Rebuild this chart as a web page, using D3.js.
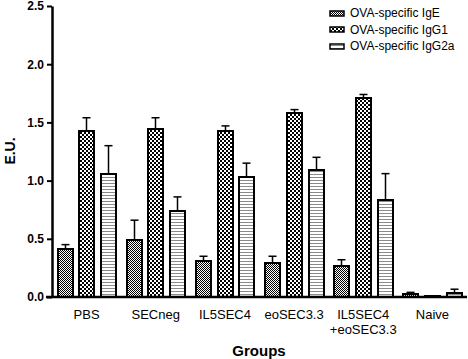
<!DOCTYPE html>
<html><head><meta charset="utf-8">
<script src="https://cdn.jsdelivr.net/npm/d3@7"></script>
<style>body{margin:0;background:#fff}svg{display:block}text{font-family:"Liberation Sans",Arial,sans-serif}</style>
</head><body><svg id="c" width="468" height="359"></svg>
<script>
const groups = ["PBS","SECneg","IL5SEC4","eoSEC3.3","IL5SEC4\n+eoSEC3.3","Naive"];
const seriesNames = ["OVA-specific IgE","OVA-specific IgG1","OVA-specific IgG2a"];
const igE      = [0.41,0.49,0.31,0.29,0.27,0.03];
const igEerr   = [0.04,0.17,0.04,0.06,0.05,0.01];
const igG1     = [1.43,1.44,1.43,1.58,1.71,0.005];
const igG1err  = [0.11,0.10,0.04,0.03,0.03,0.0];
const igG2a    = [1.06,0.74,1.03,1.09,0.83,0.037];
const igG2aerr = [0.24,0.12,0.12,0.11,0.23,0.03];
const yTicks = [0.0,0.5,1.0,1.5,2.0,2.5];

const svg = d3.select("#c");
const defs = svg.append("defs");
const p1 = defs.append("pattern").attr("id","pE").attr("patternUnits","userSpaceOnUse").attr("width",2).attr("height",2);
p1.append("rect").attr("width",2).attr("height",2).attr("fill","#fff");
p1.append("rect").attr("width",1).attr("height",1).attr("fill","#000");
p1.append("rect").attr("x",1).attr("y",1).attr("width",1).attr("height",1).attr("fill","#000");
const p2 = defs.append("pattern").attr("id","pG1").attr("patternUnits","userSpaceOnUse").attr("width",4).attr("height",4);
p2.append("rect").attr("width",4).attr("height",4).attr("fill","#fff");
p2.append("rect").attr("width",2).attr("height",2).attr("fill","#000");
p2.append("rect").attr("x",2).attr("y",2).attr("width",2).attr("height",2).attr("fill","#000");
const p3 = defs.append("pattern").attr("id","pG2").attr("patternUnits","userSpaceOnUse").attr("width",4).attr("height",3);
p3.append("rect").attr("width",4).attr("height",3).attr("fill","#fff");
p3.append("rect").attr("y",0).attr("width",4).attr("height",1).attr("fill","#8a8a8a");
const fills = ["url(#pE)","url(#pG1)","url(#pG2)"];

const x0 = d3.scaleBand().domain(groups).range([52,467]).paddingInner(0).paddingOuter(0);
const x1 = d3.scaleBand().domain([0,1,2]).range([-29,29]).paddingInner(0.33);
const y = d3.scaleLinear().domain([0,2.5]).range([297,6]);

const vals = [igE,igG1,igG2a], errs=[igEerr,igG1err,igG2aerr];
groups.forEach((g,i)=>{
  const gc = x0(g)+x0.bandwidth()/2;
  [0,1,2].forEach(s=>{
    const v = vals[s][i], e = errs[s][i];
    const bx = Math.round(gc + x1(s)), bw = Math.round(x1.bandwidth());
    const cx = bx+bw/2;
    const top = Math.round(y(v));
    if (e>0){
      svg.append("line").attr("x1",cx).attr("x2",cx).attr("y1",top).attr("y2",y(v+e)).attr("stroke","#000").attr("stroke-width",1.5);
      svg.append("line").attr("x1",cx-4).attr("x2",cx+4).attr("y1",y(v+e)).attr("y2",y(v+e)).attr("stroke","#000").attr("stroke-width",1.5);
    }
    svg.append("rect").attr("x",bx).attr("y",top).attr("width",bw).attr("height",Math.max(0,y(0)-top))
      .attr("fill",fills[s]).attr("stroke","#000").attr("stroke-width",2);
  });
});

const yAxis = d3.axisLeft(y).tickValues(yTicks).tickFormat(d3.format(".1f")).tickSize(5).tickSizeOuter(0);
const ya = svg.append("g").attr("transform","translate(52,0)").call(yAxis);
ya.attr("font-family",null);
ya.select(".domain").attr("stroke","#000").attr("stroke-width",2.5);
ya.selectAll(".tick line").attr("stroke","#000").attr("stroke-width",2);
ya.selectAll(".tick text").attr("font-size",12).attr("font-weight","bold").attr("fill","#000").attr("x",-8);
svg.append("line").attr("x1",46).attr("x2",467).attr("y1",297).attr("y2",297).attr("stroke","#000").attr("stroke-width",2.5);

groups.forEach(g=>{
  const cx = x0(g)+x0.bandwidth()/2;
  const t = svg.append("text").attr("x",cx).attr("y",319).attr("text-anchor","middle")
    .attr("font-size",13).attr("fill","#000");
  g.split("\n").forEach((l,k)=>t.append("tspan").attr("x",cx).attr("dy",k?15:0).text(l));
});
svg.append("text").attr("x",259).attr("y",356).attr("text-anchor","middle").attr("font-size",15).attr("font-weight","bold").text("Groups");
svg.append("text").attr("transform","translate(15,151) rotate(-90)").attr("text-anchor","middle").attr("font-size",14).attr("font-weight","bold").text("E.U.");

seriesNames.forEach((n,i)=>{
  const ly = 13 + i*16.5;
  svg.append("rect").attr("x",330).attr("y",Math.round(ly-2.5)).attr("width",14).attr("height",5).attr("fill",fills[i]).attr("stroke","#000").attr("stroke-width",1.5);
  svg.append("text").attr("x",350).attr("y",ly+4).attr("font-size",12).attr("fill","#000").text(n);
});
</script></body></html>
